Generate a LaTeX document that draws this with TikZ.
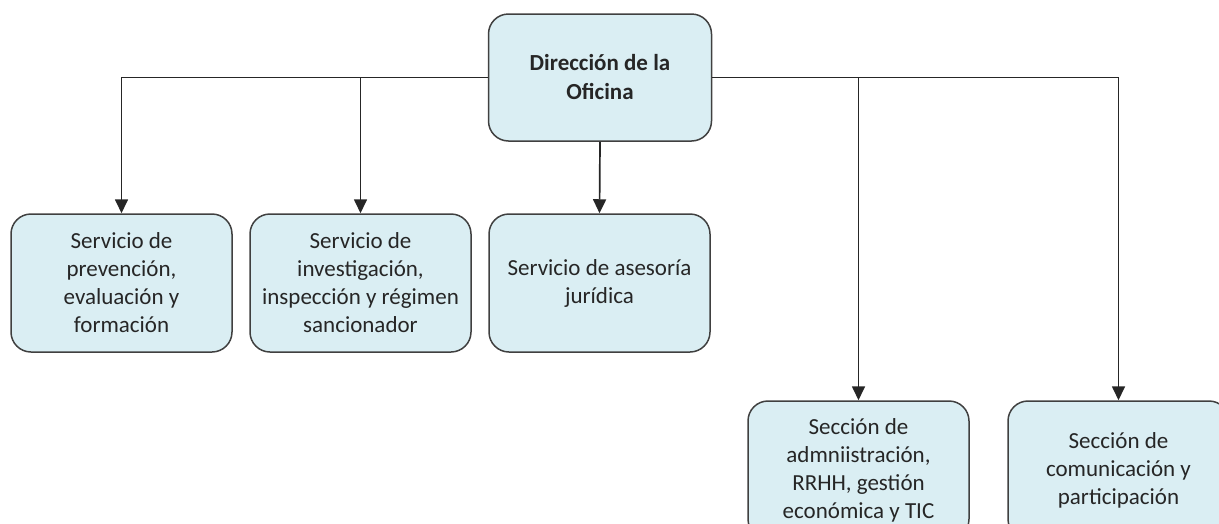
\documentclass[tikz,border=0pt]{standalone}
\usepackage{fontspec}
\setmainfont{Carlito}
\usetikzlibrary{arrows.meta}
\definecolor{boxfill}{HTML}{DAEEF3}
\definecolor{boxline}{HTML}{404040}
\definecolor{txt}{HTML}{262626}
\begin{document}
\begin{tikzpicture}[x=1pt,y=-1pt,
  box/.style={draw=boxline, line width=1.5pt, fill=boxfill, rounded corners=20pt,
    minimum width=221pt, minimum height=138pt, align=center, text=txt,
    font=\fontsize{23}{28}\selectfont, inner sep=0pt},
  conn/.style={draw=black!85, line width=1.7pt},
  arr/.style={conn, -{Triangle[width=13pt,length=14pt]}}]
\clip (0,0) rectangle (1219,523);
\node[box, minimum width=223pt, minimum height=127pt, font=\bfseries\fontsize{23}{29}\selectfont] (top) at (600,77.5) {Dirección de la\\Oficina};
\node[box] (b1) at (121.5,283) {Servicio de\\prevención,\\evaluación y\\formación};
\node[box] (b2) at (360.5,283) {Servicio de\\investigación,\\inspección y régimen\\sancionador};
\node[box] (b3) at (599.5,283) {Servicio de asesoría\\jurídica};
\node[box] (b4) at (858.5,470) {Sección de\\admniistración,\\RRHH, gestión\\económica y TIC};
\node[box] (b5) at (1118.5,470) {Sección de\\comunicación y\\participación};
\draw[arr] (top.west) -| (b1.north);
\draw[arr] (top.west) -| (b2.north);
\draw[arr] (top.south) -- (b3.north);
\draw[arr] (top.east) -| (b4.north);
\draw[arr] (top.east) -| (b5.north);
\end{tikzpicture}
\end{document}
